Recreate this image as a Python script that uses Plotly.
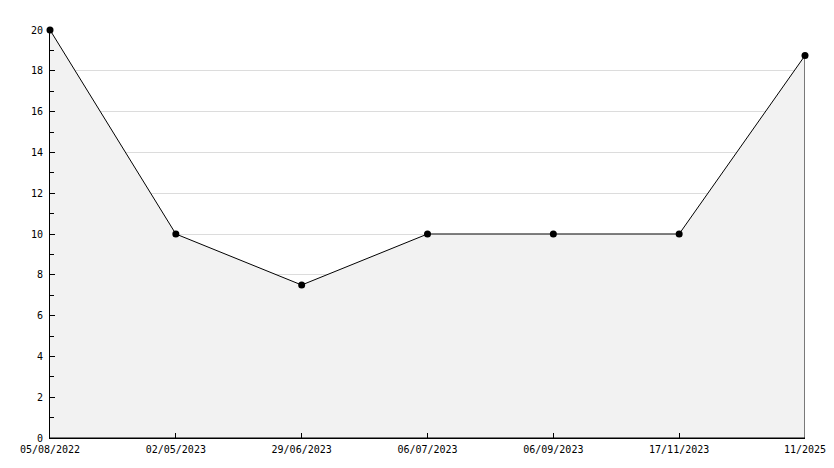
import plotly.graph_objects as go

dates = ["05/08/2022", "02/05/2023", "29/06/2023", "06/07/2023", "06/09/2023", "17/11/2023", "11/2025"]
values = [20, 10, 7.5, 10, 10, 10, 18.75]

font = dict(family="DejaVu Sans Mono", size=10, color="#000000")

# closed polygon for the shaded area built from the data
poly_x = dates + [dates[-1], dates[0]]
poly_y = values + [0, 0]

fig = go.Figure()
fig.add_trace(go.Scatter(x=poly_x, y=poly_y, mode="lines", fill="toself",
                         fillcolor="#f2f2f2", line=dict(color="#000000", width=1),
                         hoverinfo="skip", showlegend=False))
fig.add_trace(go.Scatter(x=dates, y=values, mode="markers", cliponaxis=False,
                         marker=dict(color="#000000", size=7, symbol="circle"),
                         showlegend=False))

# page body has an 8px default margin, so the figure is sized to fit the window
fig.update_layout(
    width=826, height=460,
    margin=dict(l=42, r=29, t=22, b=30),
    paper_bgcolor="#ffffff", plot_bgcolor="#ffffff",
    font=font,
    xaxis=dict(type="category", categoryorder="array", categoryarray=dates,
               range=[0, len(dates) - 1], showgrid=False, showline=True,
               linecolor="#000000", linewidth=1, ticks="inside", ticklen=5,
               tickcolor="#000000", zeroline=False, tickfont=font,
               ticklabelstandoff=2, automargin=False),
    yaxis=dict(range=[0, 20], dtick=2, tick0=0, showgrid=True, gridcolor="#dcdcdc",
               gridwidth=1, showline=True, linecolor="#000000", linewidth=1,
               ticks="inside", ticklen=5, tickcolor="#000000", zeroline=False,
               tickfont=font, ticklabelstandoff=4, automargin=False,
               minor=dict(dtick=1, ticks="inside", ticklen=4, tickcolor="#000000", showgrid=False)),
)

fig.write_html("out.html")
